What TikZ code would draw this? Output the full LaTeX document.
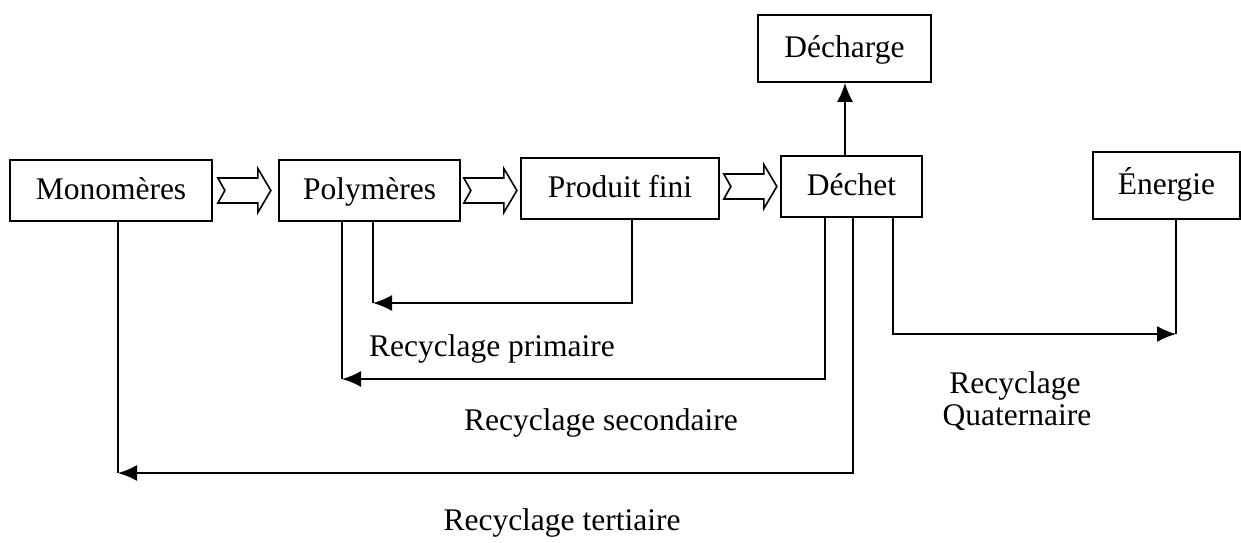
\documentclass[tikz,border=0pt]{standalone}
\usepackage{fontspec}
\setmainfont{Liberation Serif}
\usetikzlibrary{arrows.meta,calc}
\begin{document}
\begin{tikzpicture}[x=1pt,y=-1pt,
  box/.style={draw,line width=1.7pt,inner sep=0pt,font=\fontsize{31.5}{36}\selectfont,text height=22pt,text depth=5pt},
  conn/.style={line width=1.8pt},
  arr/.style={conn,-{Latex[length=19pt,width=16pt]}},
  lbl/.style={anchor=base,inner sep=0pt,font=\fontsize{31.5}{36}\selectfont},
  hollow/.pic={\draw[line width=1.6pt,line join=miter,fill=white] (0,12.5) -- (40,12.5) -- (40,22) -- (53,0) -- (40,-22) -- (40,-12.5) -- (0,-12.5) -- (7,0) -- cycle;}
]
\useasboundingbox (0,0) rectangle (1241,542);
\node[box,minimum width=202,minimum height=61] (mono) at (111,190.5) {Monomères};
\node[box,minimum width=181,minimum height=61] (poly) at (369.5,190.5) {Polymères};
\node[box,minimum width=198,minimum height=61] (prod) at (620,188.5) {Produit fini};
\node[box,minimum width=141,minimum height=61] (dechet) at (851.5,186.5) {Déchet};
\node[box,minimum width=173,minimum height=67] (decharge) at (844.5,48.5) {Décharge};
\node[box,minimum width=147,minimum height=67] (energie) at (1166.5,185.5) {Énergie};

\pic at ($(mono.east)+(5,0)$) {hollow};
\pic at ($(poly.east)+(3,0)$) {hollow};
\pic at ($(prod.east)+(4,-2)$) {hollow};

\draw[arr] ([xshift=-6.5pt]dechet.north) -- ([xshift=0.5pt]decharge.south);

\coordinate (p1) at (373,303);
\coordinate (p2) at (342,379);
\coordinate (p3) at (118,473);
\coordinate (p4) at (1176,334);

\draw[arr] ([xshift=12pt]prod.south) |- (p1);
\draw[conn] ([xshift=3.5pt]poly.south) -- (p1);

\draw[arr] ([xshift=-26.5pt]dechet.south) |- (p2);
\draw[conn] ([xshift=-27.5pt]poly.south) -- (p2);

\draw[arr] ([xshift=1.5pt]dechet.south) |- (p3);
\draw[conn] ([xshift=7pt]mono.south) -- (p3);

\draw[arr] ([xshift=41.5pt]dechet.south) |- (p4);
\draw[conn] (p4) -- ([xshift=9.5pt]energie.south);

\node[lbl] (l1) at (492,356) {Recyclage primaire};
\node[lbl] (l2) at (601,430) {Recyclage secondaire};
\node[lbl] (l3) at (1015,393) {Recyclage};
\node[lbl] (l4) at (1017,425) {Quaternaire};
\node[lbl] (l5) at (562,530) {Recyclage tertiaire};
\end{tikzpicture}
\end{document}
